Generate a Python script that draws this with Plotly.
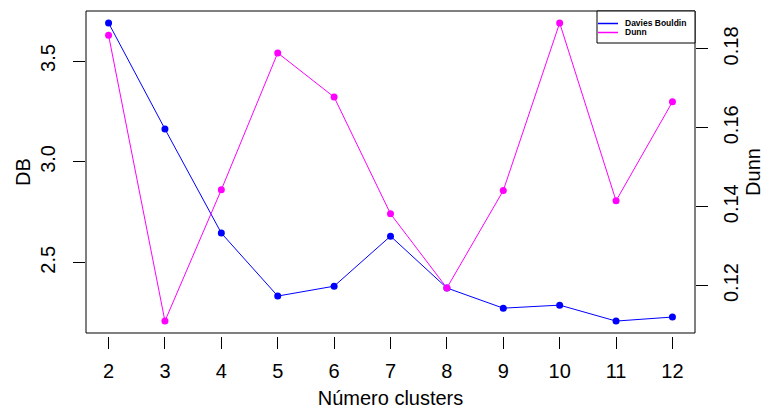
import plotly.graph_objects as go

# Cluster validity indices by number of clusters
clusters = [2, 3, 4, 5, 6, 7, 8, 9, 10, 11, 12]
db_index = [3.689, 3.163, 2.647, 2.335, 2.384, 2.632, 2.375, 2.275, 2.290, 2.211, 2.231]
dunn_index = [0.1835, 0.1110, 0.1443, 0.1790, 0.1678, 0.1382, 0.1194, 0.1441, 0.1866, 0.1415, 0.1666]

db_ticks = [2.5, 3.0, 3.5]
dunn_ticks = [0.12, 0.14, 0.16, 0.18]

series_names = ["Davies Bouldin", "Dunn"]
BLUE = "#0000ff"
MAGENTA = "#ff00ff"
series_colors = [BLUE, MAGENTA]
FONT = "Liberation Sans, Arial, sans-serif"


def padded(values, frac=0.04):
    lo, hi = min(values), max(values)
    r = hi - lo
    return [lo - frac * r, hi + frac * r]


fig = go.Figure()

fig.add_trace(go.Scatter(
    x=clusters, y=db_index, mode="lines+markers", yaxis="y",
    line=dict(color=BLUE, width=1), marker=dict(color=BLUE, size=7),
    showlegend=False, name=series_names[0]))
fig.add_trace(go.Scatter(
    x=clusters, y=dunn_index, mode="lines+markers", yaxis="y2",
    line=dict(color=MAGENTA, width=1), marker=dict(color=MAGENTA, size=7),
    showlegend=False, name=series_names[1]))

W, H = 770, 409
ml, mr, mt, mb = 86, 75, 11, 73
pw = W - ml - mr
ph = H - mt - mb
gap = 3
y0 = gap / ph


def px_x(x):
    return (x - ml) / pw


def px_y(y):
    return (H - mb - y) / ph


# plot frame
shapes = [dict(type="rect", xref="paper", yref="paper", x0=0, x1=1, y0=y0, y1=1,
               line=dict(color="#000000", width=1), fillcolor="rgba(0,0,0,0)")]
annotations = []

# legend box in the top-right corner of the frame
lg_left, lg_right, lg_top, lg_bottom = 597, 695, 11, 43
shapes.append(dict(type="rect", xref="paper", yref="paper",
                   x0=px_x(lg_left), x1=px_x(lg_right), y0=px_y(lg_bottom), y1=px_y(lg_top),
                   line=dict(color="#000000", width=1), fillcolor="white", layer="above"))
for i, (name, col) in enumerate(zip(series_names, series_colors)):
    yy = 23.5 + 9 * i
    shapes.append(dict(type="line", xref="paper", yref="paper",
                       x0=px_x(598), x1=px_x(618), y0=px_y(yy), y1=px_y(yy),
                       line=dict(color=col, width=1.5), layer="above"))
    annotations.append(dict(xref="paper", yref="paper", x=px_x(623), y=px_y(yy),
                            xanchor="left", yanchor="middle", showarrow=False,
                            text=f"<b>{name}</b>",
                            font=dict(family=FONT, size=8.5, color="#000000")))

fig.update_layout(
    width=W, height=H,
    margin=dict(l=ml, r=mr, t=mt, b=mb, pad=0, autoexpand=False),
    paper_bgcolor="white", plot_bgcolor="white",
    font=dict(family=FONT, size=20, color="#000000"),
    showlegend=False,
    xaxis=dict(
        range=padded(clusters), tickvals=clusters, ticktext=[str(c) for c in clusters],
        anchor="free", position=0, showline=False, showgrid=False, zeroline=False,
        ticks="outside", ticklen=12, tickwidth=1, tickcolor="#000000",
        ticklabelstandoff=5, automargin=False,
        title=dict(text="Número clusters", standoff=12, font=dict(size=20)),
    ),
    yaxis=dict(
        domain=[y0, 1], range=padded(db_index),
        tickvals=db_ticks, ticktext=[f"{v:.1f}" for v in db_ticks], tickangle=-90,
        showline=False, showgrid=False, zeroline=False,
        ticks="outside", ticklen=12, tickwidth=1, tickcolor="#000000",
        ticklabelstandoff=10, automargin=False,
        title=dict(text="DB", standoff=1, font=dict(size=20)),
    ),
    yaxis2=dict(
        domain=[y0, 1], range=padded(dunn_index), overlaying="y", side="right",
        tickvals=dunn_ticks, ticktext=[f"{v:.2f}" for v in dunn_ticks], tickangle=-90,
        showline=False, showgrid=False, zeroline=False,
        ticks="outside", ticklen=12, tickwidth=1, tickcolor="#000000",
        ticklabelstandoff=6, automargin=False,
        title=dict(text="Dunn", standoff=0, font=dict(size=20)),
    ),
    shapes=shapes,
    annotations=annotations,
)

fig.write_html("out.html")
